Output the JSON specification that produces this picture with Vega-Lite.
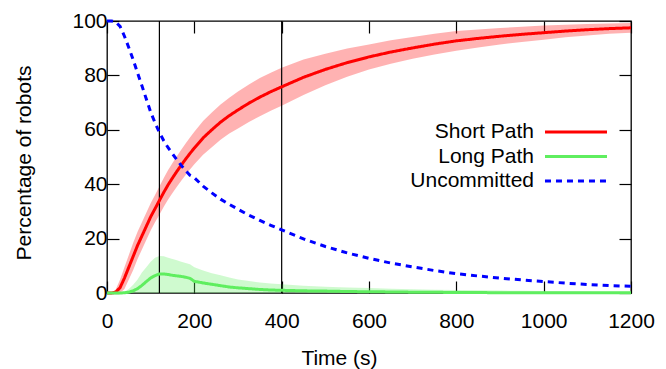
{
  "$schema": "https://vega.github.io/schema/vega-lite/v6.json",
  "width": 524,
  "height": 272,
  "autosize": {"type": "none"},
  "padding": {"left": 107, "top": 21, "right": 35, "bottom": 76},
  "background": "white",
  "config": {
    "font": "Liberation Sans",
    "view": {"stroke": "black", "strokeWidth": 1.3},
    "axis": {
      "grid": false,
      "domain": false,
      "tickSize": -12,
      "tickColor": "black",
      "tickWidth": 1.2,
      "labelFont": "Liberation Sans",
      "labelFontSize": 21,
      "labelColor": "black",
      "titleFont": "Liberation Sans",
      "titleFontSize": 21,
      "titleFontWeight": "normal",
      "titleColor": "black"
    }
  },
  "datasets": {
    "d": [
      {"t": 0, "Short Path": 0, "slo": 0, "shi": 0, "Long Path": 0, "lhi": 0, "Uncommitted": 100},
      {"t": 10, "Short Path": 0, "slo": 0, "shi": 0, "Long Path": 0, "lhi": 0, "Uncommitted": 100},
      {"t": 20, "Short Path": 0.3, "slo": 0, "shi": 1.3, "Long Path": 0, "lhi": 0, "Uncommitted": 99.7},
      {"t": 30, "Short Path": 2, "slo": 0, "shi": 5, "Long Path": 0, "lhi": 0.1, "Uncommitted": 98},
      {"t": 40, "Short Path": 5.5, "slo": 1.5, "shi": 9.5, "Long Path": 0.1, "lhi": 0.5, "Uncommitted": 94.4},
      {"t": 50, "Short Path": 9.5, "slo": 5, "shi": 14, "Long Path": 0.3, "lhi": 1.5, "Uncommitted": 90.2},
      {"t": 60, "Short Path": 13.5, "slo": 8.5, "shi": 18.5, "Long Path": 0.8, "lhi": 3, "Uncommitted": 85.7},
      {"t": 70, "Short Path": 17.5, "slo": 12.5, "shi": 22.5, "Long Path": 1.6, "lhi": 5, "Uncommitted": 80.9},
      {"t": 80, "Short Path": 21, "slo": 16, "shi": 26, "Long Path": 2.8, "lhi": 7.5, "Uncommitted": 76.2},
      {"t": 90, "Short Path": 24.5, "slo": 19.5, "shi": 29.5, "Long Path": 4.2, "lhi": 9.5, "Uncommitted": 71.3},
      {"t": 100, "Short Path": 28, "slo": 23, "shi": 33, "Long Path": 5.5, "lhi": 11.5, "Uncommitted": 66.5},
      {"t": 110, "Short Path": 31, "slo": 26, "shi": 36, "Long Path": 6.4, "lhi": 13, "Uncommitted": 62.6},
      {"t": 120, "Short Path": 34, "slo": 28.8, "shi": 39.2, "Long Path": 7, "lhi": 13.6, "Uncommitted": 59},
      {"t": 130, "Short Path": 37, "slo": 31.7, "shi": 42.3, "Long Path": 7, "lhi": 13.5, "Uncommitted": 56},
      {"t": 140, "Short Path": 39.8, "slo": 34.4, "shi": 45.2, "Long Path": 6.8, "lhi": 13, "Uncommitted": 53.4},
      {"t": 150, "Short Path": 42.3, "slo": 36.8, "shi": 47.8, "Long Path": 6.5, "lhi": 12.5, "Uncommitted": 51.2},
      {"t": 160, "Short Path": 44.7, "slo": 39.1, "shi": 50.3, "Long Path": 6.3, "lhi": 12, "Uncommitted": 49},
      {"t": 170, "Short Path": 47, "slo": 41.3, "shi": 52.7, "Long Path": 6.1, "lhi": 11.5, "Uncommitted": 46.9},
      {"t": 180, "Short Path": 49.2, "slo": 43.4, "shi": 55, "Long Path": 5.8, "lhi": 11, "Uncommitted": 45},
      {"t": 190, "Short Path": 51.3, "slo": 45.4, "shi": 57.2, "Long Path": 5.4, "lhi": 10.6, "Uncommitted": 43.3},
      {"t": 200, "Short Path": 53.3, "slo": 47.3, "shi": 59.3, "Long Path": 4.3, "lhi": 9.5, "Uncommitted": 42.4},
      {"t": 220, "Short Path": 57, "slo": 50.8, "shi": 63.2, "Long Path": 3.7, "lhi": 8.3, "Uncommitted": 39.3},
      {"t": 240, "Short Path": 60, "slo": 53.6, "shi": 66.4, "Long Path": 3.2, "lhi": 7.3, "Uncommitted": 36.8},
      {"t": 260, "Short Path": 62.8, "slo": 56.3, "shi": 69.3, "Long Path": 2.7, "lhi": 6.5, "Uncommitted": 34.5},
      {"t": 280, "Short Path": 65.2, "slo": 58.6, "shi": 71.8, "Long Path": 2.2, "lhi": 5.7, "Uncommitted": 32.6},
      {"t": 300, "Short Path": 67.3, "slo": 60.5, "shi": 74.1, "Long Path": 1.9, "lhi": 5, "Uncommitted": 30.8},
      {"t": 325, "Short Path": 69.8, "slo": 62.9, "shi": 76.7, "Long Path": 1.6, "lhi": 4.4, "Uncommitted": 28.6},
      {"t": 350, "Short Path": 72, "slo": 65, "shi": 79, "Long Path": 1.3, "lhi": 3.9, "Uncommitted": 26.7},
      {"t": 375, "Short Path": 74, "slo": 67, "shi": 81, "Long Path": 1.1, "lhi": 3.5, "Uncommitted": 24.9},
      {"t": 400, "Short Path": 75.8, "slo": 68.8, "shi": 82.8, "Long Path": 1, "lhi": 3.2, "Uncommitted": 23.2},
      {"t": 450, "Short Path": 79.3, "slo": 72.8, "shi": 85.8, "Long Path": 0.8, "lhi": 2.7, "Uncommitted": 19.9},
      {"t": 500, "Short Path": 82.2, "slo": 76.4, "shi": 88, "Long Path": 0.7, "lhi": 2.3, "Uncommitted": 17.1},
      {"t": 550, "Short Path": 84.7, "slo": 79.5, "shi": 89.9, "Long Path": 0.55, "lhi": 2, "Uncommitted": 14.75},
      {"t": 600, "Short Path": 86.8, "slo": 82.2, "shi": 91.4, "Long Path": 0.45, "lhi": 1.8, "Uncommitted": 12.75},
      {"t": 650, "Short Path": 88.6, "slo": 84.3, "shi": 92.9, "Long Path": 0.4, "lhi": 1.6, "Uncommitted": 11},
      {"t": 700, "Short Path": 90.1, "slo": 86.1, "shi": 94.1, "Long Path": 0.3, "lhi": 1.4, "Uncommitted": 9.6},
      {"t": 750, "Short Path": 91.5, "slo": 87.7, "shi": 95.3, "Long Path": 0.25, "lhi": 1.2, "Uncommitted": 8.25},
      {"t": 800, "Short Path": 92.7, "slo": 89.1, "shi": 96.3, "Long Path": 0.2, "lhi": 1.1, "Uncommitted": 7.1},
      {"t": 850, "Short Path": 93.6, "slo": 90.3, "shi": 96.9, "Long Path": 0.15, "lhi": 1, "Uncommitted": 6.25},
      {"t": 900, "Short Path": 94.4, "slo": 91.4, "shi": 97.4, "Long Path": 0.12, "lhi": 0.9, "Uncommitted": 5.48},
      {"t": 950, "Short Path": 95.1, "slo": 92.3, "shi": 97.9, "Long Path": 0.1, "lhi": 0.8, "Uncommitted": 4.8},
      {"t": 1000, "Short Path": 95.7, "slo": 93.1, "shi": 98.3, "Long Path": 0.08, "lhi": 0.7, "Uncommitted": 4.22},
      {"t": 1050, "Short Path": 96.3, "slo": 94, "shi": 98.6, "Long Path": 0.07, "lhi": 0.6, "Uncommitted": 3.63},
      {"t": 1100, "Short Path": 96.8, "slo": 94.7, "shi": 98.9, "Long Path": 0.06, "lhi": 0.55, "Uncommitted": 3.14},
      {"t": 1150, "Short Path": 97.2, "slo": 95.3, "shi": 99.1, "Long Path": 0.05, "lhi": 0.5, "Uncommitted": 2.75},
      {"t": 1200, "Short Path": 97.5, "slo": 95.7, "shi": 99.3, "Long Path": 0.05, "lhi": 0.45, "Uncommitted": 2.45}
    ],
    "v": [{"t": 120}, {"t": 400}]
  },
  "layer": [
    {
      "data": {"name": "d"},
      "mark": {"type": "area", "color": "#ff0000", "opacity": 0.3},
      "encoding": {
        "x": {"field": "t", "type": "quantitative", "scale": {"domain": [0, 1200], "nice": false},
          "axis": {"orient": "bottom", "values": [0, 200, 400, 600, 800, 1000, 1200], "format": "d", "labelFlush": false, "labelPadding": 29,
            "title": "Time (s)", "titleX": 232, "titleY": 71, "titleAlign": "center", "titleBaseline": "alphabetic"}},
        "y": {"field": "slo", "type": "quantitative", "scale": {"domain": [0, 100], "nice": false},
          "axis": {"orient": "left", "values": [0, 20, 40, 60, 80, 100], "labelPadding": 12,
            "title": "Percentage of robots", "titleX": -77, "titleY": 141.5, "titleAngle": -90, "titleAlign": "center", "titleBaseline": "alphabetic"}},
        "y2": {"field": "shi"}
      }
    },
    {
      "data": {"name": "d"},
      "mark": {"type": "area", "color": "#5fee5f", "opacity": 0.3},
      "encoding": {
        "x": {"field": "t", "type": "quantitative", "axis": null},
        "y": {"field": "lhi", "type": "quantitative",
          "axis": {"orient": "right", "values": [0, 20, 40, 60, 80, 100], "labels": false, "title": null}}
      }
    },
    {
      "data": {"name": "v"},
      "mark": {"type": "rule", "color": "black", "strokeWidth": 1.2},
      "encoding": {
        "x": {"field": "t", "type": "quantitative",
          "axis": {"orient": "top", "values": [0, 200, 400, 600, 800, 1000, 1200], "labels": false, "title": null}}
      }
    },
    {
      "data": {"name": "d"},
      "transform": [{"fold": ["Short Path", "Long Path", "Uncommitted"], "as": ["series", "pct"]}],
      "mark": {"type": "line", "strokeWidth": 3},
      "encoding": {
        "x": {"field": "t", "type": "quantitative", "axis": null},
        "y": {"field": "pct", "type": "quantitative", "axis": null},
        "color": {"field": "series", "type": "nominal",
          "scale": {"domain": ["Short Path", "Long Path", "Uncommitted"], "range": ["#ff0000", "#5fee5f", "#0000ff"]},
          "legend": {"title": null, "orient": "none", "legendX": 456.5, "legendY": 98.5, "symbolType": "M-2.82,0H2.82", "symbolSize": 484,
            "symbolStrokeWidth": 3, "labelFont": "Liberation Sans", "labelFontSize": 21, "labelColor": "black", "labelAlign": "right",
            "labelOffset": -54.5, "rowPadding": 1.5, "padding": 0, "labelLimit": 300}},
        "strokeDash": {"field": "series", "type": "nominal",
          "scale": {"domain": ["Short Path", "Long Path", "Uncommitted"], "range": [[1, 0], [1, 0], [6, 5]]},
          "legend": {"title": null, "orient": "none", "legendX": 456.5, "legendY": 98.5, "symbolType": "M-2.82,0H2.82", "symbolSize": 484,
            "symbolStrokeWidth": 3, "labelFont": "Liberation Sans", "labelFontSize": 21, "labelColor": "black", "labelAlign": "right",
            "labelOffset": -54.5, "rowPadding": 1.5, "padding": 0, "labelLimit": 300}}
      }
    }
  ],
  "resolve": {"axis": {"x": "independent", "y": "independent"}}
}
